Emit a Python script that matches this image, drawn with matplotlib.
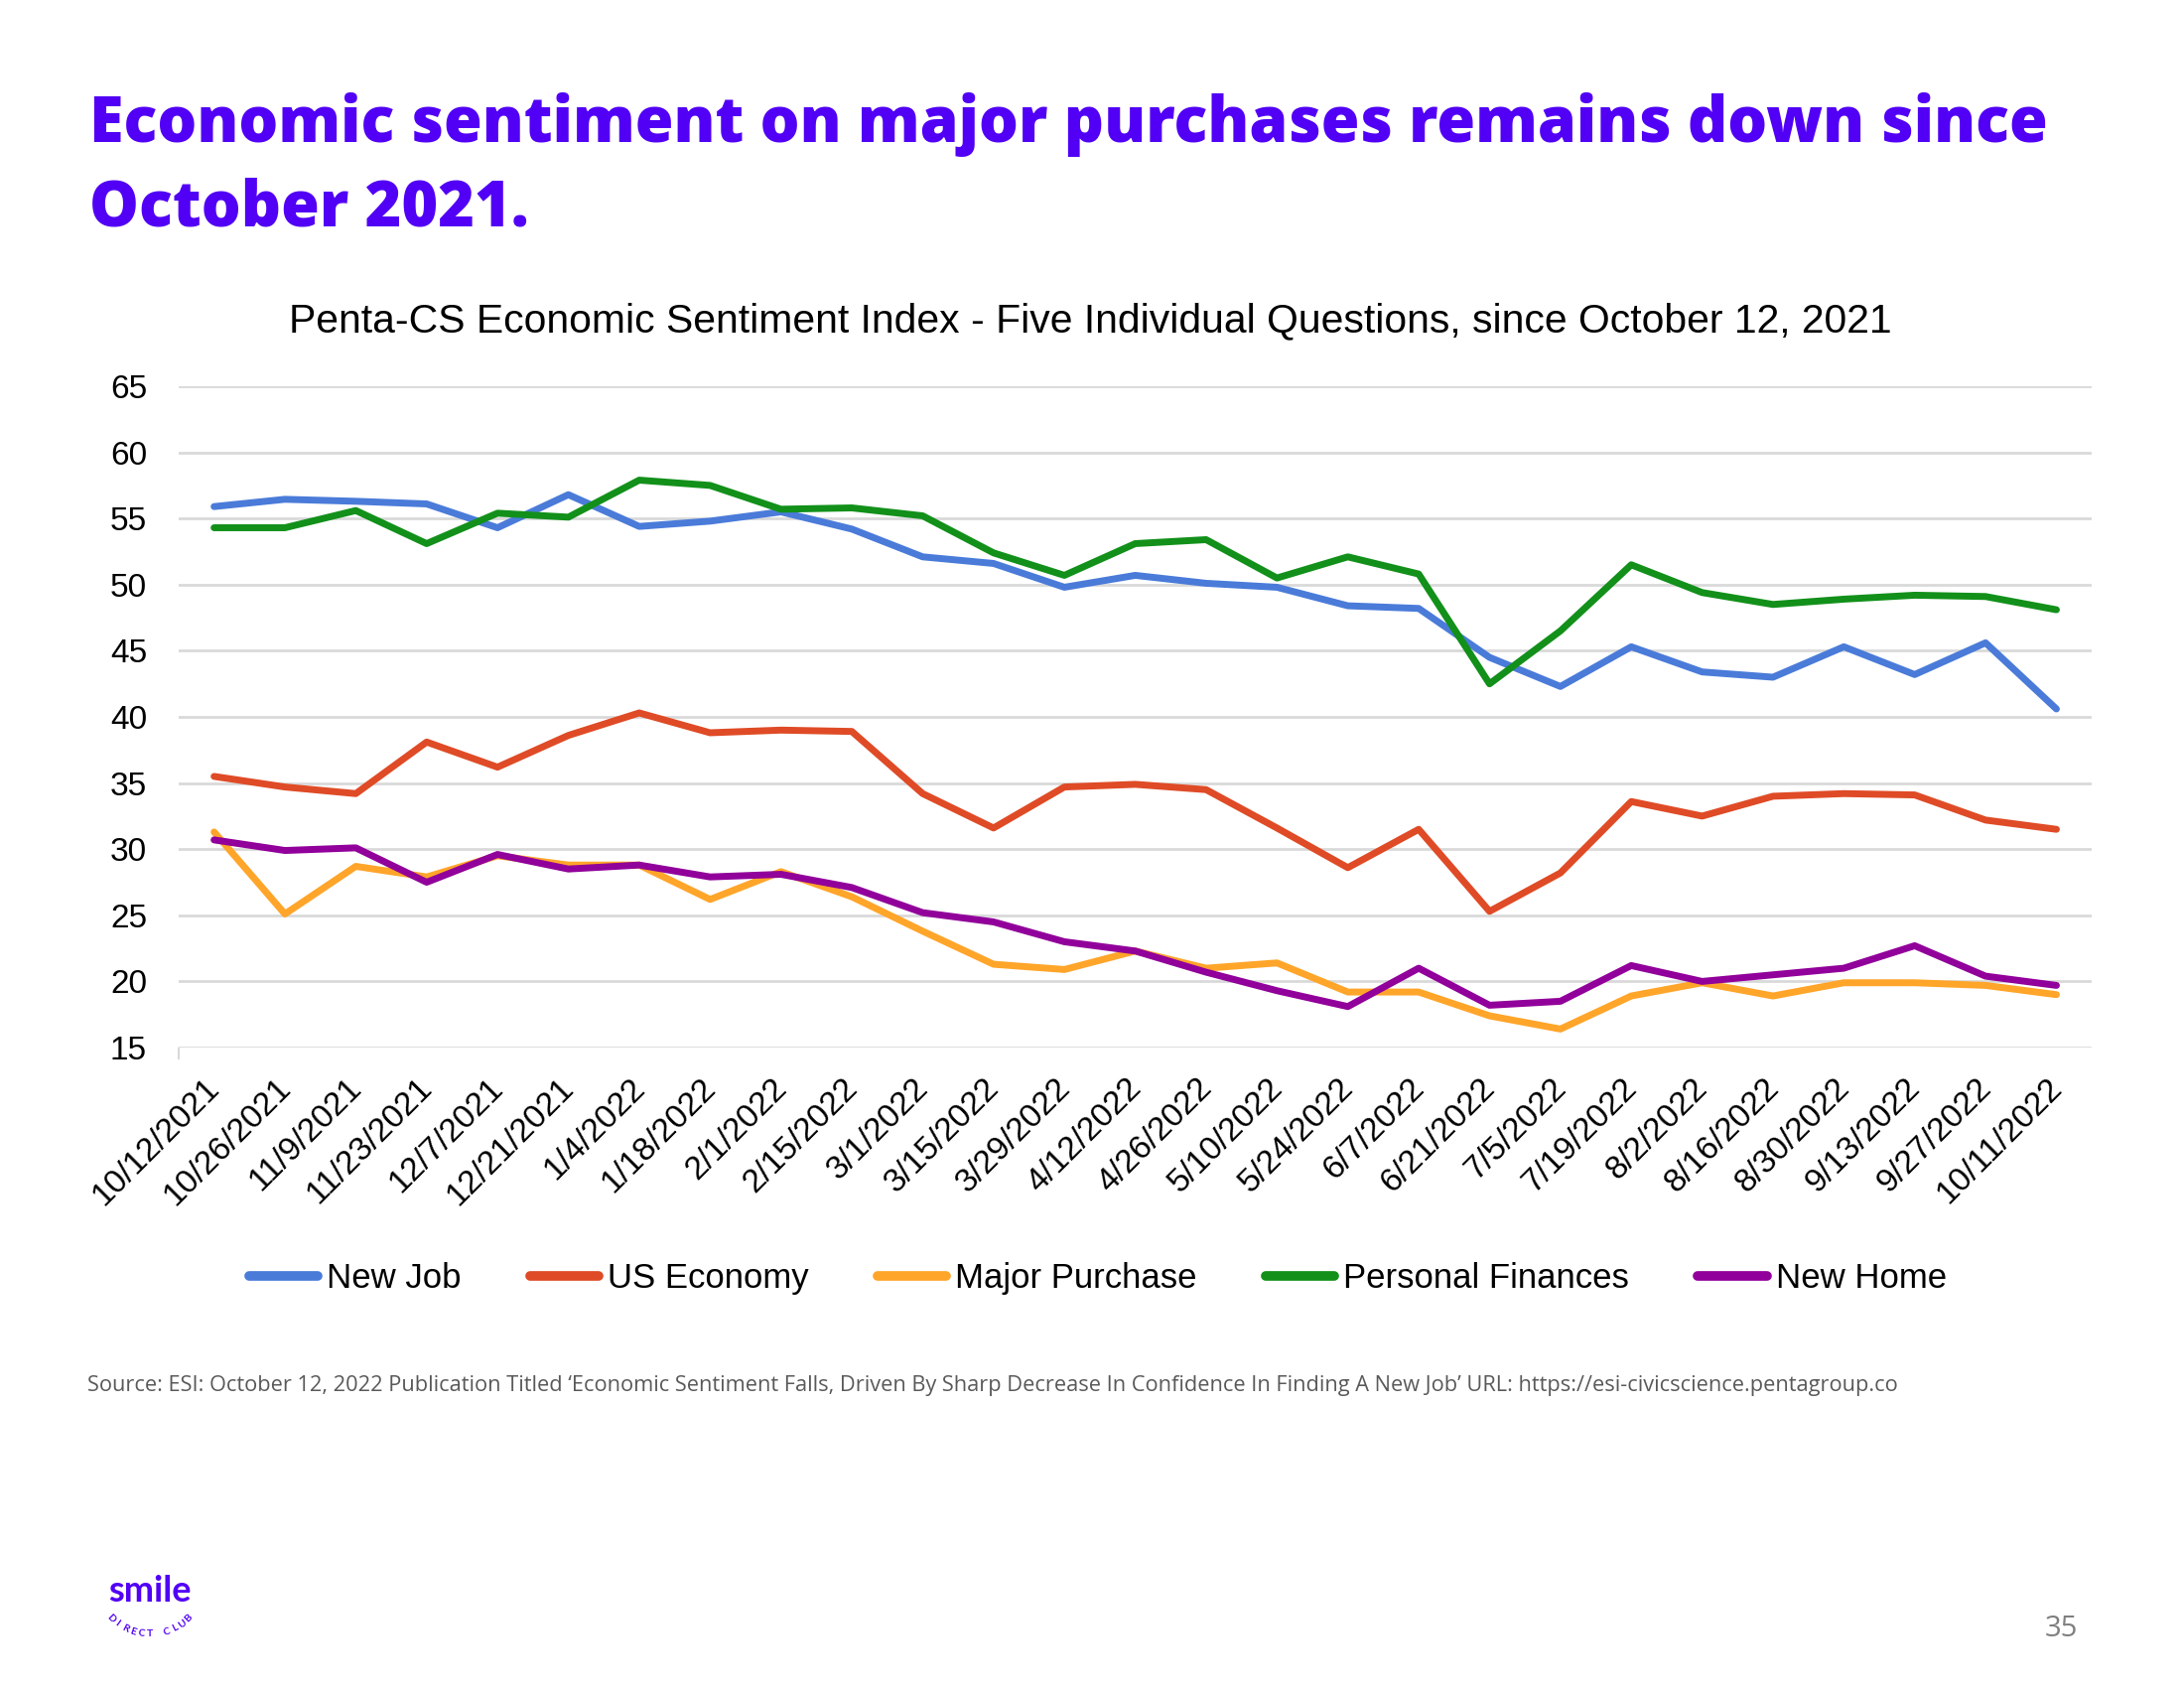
import numpy as np
import matplotlib
matplotlib.use("Agg")
import matplotlib.pyplot as plt
import matplotlib.transforms as mtransforms

# survey dates (every two weeks)
dates = ['10/12/2021', '10/26/2021', '11/9/2021', '11/23/2021', '12/7/2021', '12/21/2021',
         '1/4/2022', '1/18/2022', '2/1/2022', '2/15/2022', '3/1/2022', '3/15/2022',
         '3/29/2022', '4/12/2022', '4/26/2022', '5/10/2022', '5/24/2022', '6/7/2022',
         '6/21/2022', '7/5/2022', '7/19/2022', '8/2/2022', '8/16/2022', '8/30/2022',
         '9/13/2022', '9/27/2022', '10/11/2022']

new_job = [55.9, 56.45, 56.3, 56.1, 54.3, 56.8, 54.4, 54.8, 55.5, 54.2, 52.1, 51.6, 49.8,
           50.7, 50.1, 49.8, 48.4, 48.2, 44.5, 42.3, 45.3, 43.4, 43.0, 45.3, 43.2, 45.6, 40.6]
us_economy = [35.5, 34.7, 34.2, 38.1, 36.2, 38.6, 40.3, 38.8, 39.0, 38.9, 34.2, 31.6, 34.7,
              34.9, 34.5, 31.6, 28.6, 31.5, 25.3, 28.2, 33.6, 32.5, 34.0, 34.2, 34.1, 32.2, 31.5]
major_purchase = [31.3, 25.1, 28.7, 27.9, 29.5, 28.8, 28.8, 26.2, 28.3, 26.4, 23.8, 21.3, 20.9,
                  22.3, 21.0, 21.4, 19.2, 19.2, 17.4, 16.4, 18.9, 19.9, 18.9, 19.9, 19.9, 19.7, 19.0]
personal_fin = [54.3, 54.3, 55.6, 53.1, 55.4, 55.1, 57.9, 57.5, 55.7, 55.8, 55.2, 52.4, 50.7,
                53.1, 53.4, 50.5, 52.1, 50.8, 42.5, 46.5, 51.5, 49.4, 48.5, 48.9, 49.2, 49.1, 48.1]
new_home = [30.7, 29.9, 30.1, 27.5, 29.6, 28.5, 28.8, 27.9, 28.1, 27.1, 25.2, 24.5, 23.0,
            22.3, 20.7, 19.3, 18.1, 21.0, 18.2, 18.5, 21.2, 20.0, 20.5, 21.0, 22.7, 20.4, 19.7]

series = [('New Job', new_job, '#4A7BD9'),
          ('US Economy', us_economy, '#DF4B26'),
          ('Major Purchase', major_purchase, '#FFA52A'),
          ('Personal Finances', personal_fin, '#12901A'),
          ('New Home', new_home, '#91009A')]

plt.rcParams['font.family'] = ['Liberation Sans', 'DejaVu Sans']

fig = plt.figure(figsize=(22, 17), dpi=100)
ax = fig.add_axes([0.0818, 0.3794, 0.876, 0.3918])

x = np.arange(len(dates))
for name, vals, col in series:
    ax.plot(x, vals, color=col, lw=5, label=name, solid_capstyle='round',
            solid_joinstyle='round')

ax.set_xlim(-0.5, len(dates) - 0.5)
ax.set_ylim(15, 65)
ax.set_yticks(range(15, 66, 5))
ax.grid(axis='y', color='#d9d9d9', lw=2)
ax.set_axisbelow(True)
for s in ['top', 'right', 'left', 'bottom']:
    ax.spines[s].set_visible(False)
ax.tick_params(axis='y', length=0, labelsize=24, pad=23)
ax.tick_params(axis='x', length=0, labelsize=24, pad=18)
ax.set_xticks(x)
ax.set_xticklabels(dates, rotation=45, ha='right', rotation_mode='anchor')
shift = mtransforms.ScaledTranslation(-0.10, 0, fig.dpi_scale_trans)
for lab in ax.get_xticklabels():
    lab.set_transform(lab.get_transform() + shift)
# little tick at the left end of the category axis
ax.set_xticks([-0.5], minor=True)
ax.tick_params(axis='x', which='minor', length=8.5, width=1.5, color='#d9d9d9')

fig.text(0.4994, 0.8036,
         'Penta-CS Economic Sentiment Index - Five Individual Questions, since October 12, 2021',
         fontsize=29.4, ha='center', va='baseline')

handles, labels = ax.get_legend_handles_labels()
leg = fig.legend(handles, labels, loc='center', bbox_to_anchor=(0.5026, 0.2425), ncol=5,
                 frameon=False, fontsize=25, handlelength=2.0, handletextpad=0.25,
                 columnspacing=2.0)
for h in leg.get_lines():
    h.set_linewidth(7)

# slide header
purple = '#5100F5'
fig.text(0.041, 0.9158, 'Economic sentiment on major purchases remains down since',
         fontsize=45.2, fontweight=800, family='Open Sans', color=purple)
fig.text(0.041, 0.8663, 'October 2021.', fontsize=45.2, fontweight=800, family='Open Sans',
         color=purple)

fig.text(0.040, 0.176, "Source: ESI: October 12, 2022 Publication Titled \u2018Economic Sentiment Falls, "
         "Driven By Sharp Decrease In Confidence In Finding A New Job\u2019 URL: "
         "https://esi-civicscience.pentagroup.co",
         fontsize=15.7, family='Open Sans', color='#595959')

fig.text(0.936, 0.0305, '35', fontsize=21, family='Open Sans', color='#7f7f7f')

# logo
fig.text(0.0497, 0.0512, 'smile', fontsize=26, fontweight='bold', family='Lato', color=purple)
cx, cy, r = 0.0686, 0.0644, 0.0252
letters = 'DIRECT CLUB'
angs = np.linspace(-135, -45, len(letters))
for ch, a in zip(letters, angs):
    t = np.deg2rad(a)
    fig.text(cx + r * np.cos(t), cy + r * np.sin(t) * 2200 / 1700, ch, fontsize=7.5,
             family='Lato', fontweight='bold', color=purple, ha='center', va='center',
             rotation=a + 90)

fig.savefig('out.png', dpi=100, facecolor='white')
